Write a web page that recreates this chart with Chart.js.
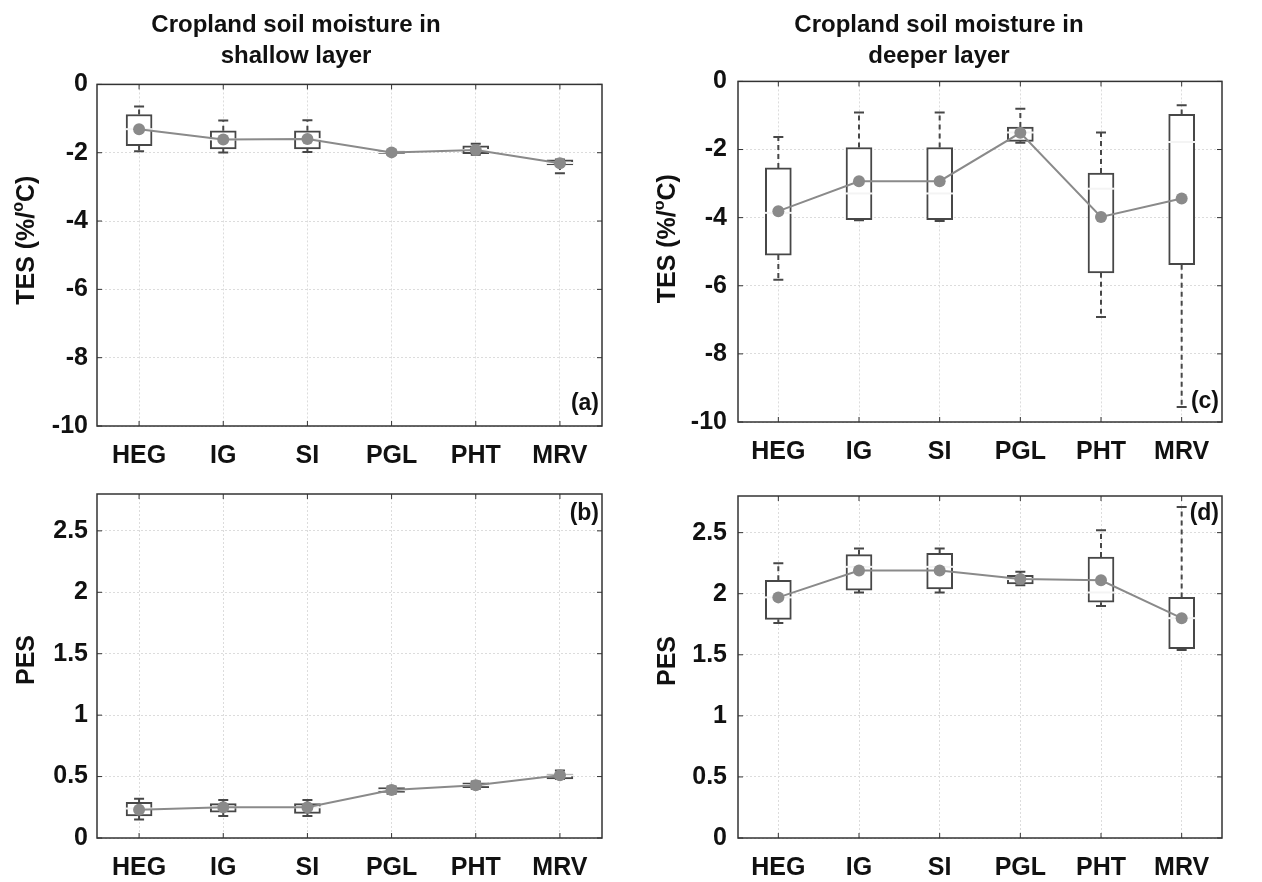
<!DOCTYPE html>
<html>
<head>
<meta charset="utf-8">
<script src="https://cdn.jsdelivr.net/npm/chart.js@4.4.0/dist/chart.umd.min.js"></script>
<style>
  body { margin: 0; background: #fff; width: 1262px; height: 882px; overflow: hidden; position: relative; }
  .panel { position: absolute; }
</style>
</head>
<body>
<div class="panel" style="left:-16px;top:0;width:624px;height:470px"><canvas id="chartA"></canvas></div>
<div class="panel" style="left:-16px;top:470px;width:624px;height:412px"><canvas id="chartB"></canvas></div>
<div class="panel" style="left:656px;top:0;width:572px;height:470px"><canvas id="chartC"></canvas></div>
<div class="panel" style="left:656px;top:470px;width:572px;height:412px"><canvas id="chartD"></canvas></div>
<script>
const sites = ["HEG", "IG", "SI", "PGL", "PHT", "MRV"];
const tesTicks = [-10, -8, -6, -4, -2, 0];
const pesTicks = [0, 0.5, 1, 1.5, 2, 2.5];

// (a) shallow layer, TES
const shallowTesLow = [-1.96, -1.99, -1.98, -2.05, -2.06, -2.60];
const shallowTesQ1 = [-1.79, -1.89, -1.89, -2.03, -2.03, -2.36];
const shallowTesMed = [-1.31, -1.61, -1.60, -1.99, -1.92, -2.30];
const shallowTesQ3 = [-0.88, -1.36, -1.36, -1.95, -1.80, -2.21];
const shallowTesHigh = [-0.65, -1.06, -1.05, -1.93, -1.74, -2.20];
const shallowTesMean = [-1.31, -1.61, -1.60, -1.99, -1.92, -2.31];

// (b) shallow layer, PES
const shallowPesLow = [0.15, 0.18, 0.18, 0.36, 0.40, 0.48];
const shallowPesQ1 = [0.18, 0.21, 0.20, 0.37, 0.41, 0.48];
const shallowPesMed = [0.24, 0.25, 0.25, 0.39, 0.43, 0.51];
const shallowPesQ3 = [0.29, 0.28, 0.28, 0.41, 0.45, 0.52];
const shallowPesHigh = [0.32, 0.31, 0.31, 0.42, 0.46, 0.55];
const shallowPesMean = [0.23, 0.25, 0.25, 0.39, 0.43, 0.51];

// (c) deeper layer, TES
const deepTesLow = [-5.82, -4.08, -4.10, -1.80, -6.92, -9.56];
const deepTesQ1 = [-5.10, -4.06, -4.06, -1.76, -5.62, -5.38];
const deepTesMed = [-3.86, -3.29, -3.29, -1.50, -3.15, -1.78];
const deepTesQ3 = [-2.54, -1.94, -1.94, -1.34, -2.69, -0.97];
const deepTesHigh = [-1.63, -0.91, -0.91, -0.80, -1.50, -0.70];
const deepTesMean = [-3.81, -2.93, -2.93, -1.51, -3.98, -3.44];

// (d) deeper layer, PES
const deepPesLow = [1.76, 2.01, 2.01, 2.07, 1.90, 1.54];
const deepPesQ1 = [1.79, 2.03, 2.04, 2.08, 1.93, 1.55];
const deepPesMed = [1.97, 2.22, 2.22, 2.12, 2.01, 1.80];
const deepPesQ3 = [2.11, 2.32, 2.33, 2.15, 2.30, 1.97];
const deepPesHigh = [2.25, 2.37, 2.37, 2.18, 2.52, 2.71];
const deepPesMean = [1.97, 2.19, 2.19, 2.12, 2.11, 1.80];

// y axis titles, [text, superscript?] pieces
const tesTitle = [["TES (%/", false], ["o", true], ["C)", false]];
const pesTitle = [["PES", false]];

const FONT = "'Liberation Sans', Arial, Helvetica, sans-serif";
Chart.defaults.font.family = FONT;
Chart.defaults.color = "#111";

// whiskers, medians, frame, y title and panel tag
const boxPlugin = {
  id: "boxes",
  afterDatasetDraw(chart, args, opts) {
    if (args.index !== 0) return;
    const { ctx } = chart;
    const x = chart.scales.x, y = chart.scales.y;
    ctx.save();
    opts.q1.forEach((q1, i) => {
      const cx = x.getPixelForValue(i);
      const yLow = y.getPixelForValue(opts.low[i]);
      const yHigh = y.getPixelForValue(opts.high[i]);
      const yQ1 = y.getPixelForValue(q1);
      const yQ3 = y.getPixelForValue(opts.q3[i]);
      ctx.strokeStyle = "#474747";
      ctx.lineWidth = 2;
      ctx.setLineDash([5, 4]);
      ctx.beginPath();
      ctx.moveTo(cx, yQ3); ctx.lineTo(cx, yHigh);
      ctx.moveTo(cx, yQ1); ctx.lineTo(cx, yLow);
      ctx.stroke();
      ctx.setLineDash([]);
      ctx.beginPath();
      ctx.moveTo(cx - 5, yHigh); ctx.lineTo(cx + 5, yHigh);
      ctx.moveTo(cx - 5, yLow); ctx.lineTo(cx + 5, yLow);
      ctx.stroke();
      const yMed = y.getPixelForValue(opts.med[i]);
      ctx.strokeStyle = "#f4f4f4";
      ctx.beginPath();
      ctx.moveTo(cx - 14, yMed); ctx.lineTo(cx + 14, yMed);
      ctx.stroke();
    });
    ctx.restore();
  },
  afterDraw(chart, args, opts) {
    const { ctx, chartArea: a } = chart;
    const x = chart.scales.x, y = chart.scales.y;
    ctx.save();
    ctx.strokeStyle = "#333";
    ctx.lineWidth = 1.5;
    ctx.strokeRect(a.left, a.top, a.right - a.left, a.bottom - a.top);
    ctx.lineWidth = 1;
    ctx.beginPath();
    sites.forEach((s, i) => {
      const px = x.getPixelForValue(i);
      ctx.moveTo(px, a.bottom); ctx.lineTo(px, a.bottom - 5);
      ctx.moveTo(px, a.top); ctx.lineTo(px, a.top + 5);
    });
    y.ticks.forEach((t) => {
      const py = y.getPixelForValue(t.value);
      ctx.moveTo(a.left, py); ctx.lineTo(a.left + 5, py);
      ctx.moveTo(a.right, py); ctx.lineTo(a.right - 5, py);
    });
    ctx.stroke();

    ctx.fillStyle = "#111";
    ctx.textAlign = "right";
    ctx.textBaseline = "middle";
    ctx.font = "bold 23px " + FONT;
    const ty = opts.tagAtTop ? a.top + opts.tagGap : a.bottom - opts.tagGap;
    ctx.fillText(opts.tag, a.right - 3, ty);

    // rotated y axis title with a raised small "o"
    const big = "bold 25px " + FONT, small = "bold 16px " + FONT;
    const widths = opts.yTitle.map(([t, sup]) => {
      ctx.font = sup ? small : big;
      return ctx.measureText(t).width;
    });
    const total = widths.reduce((s, w) => s + w, 0);
    ctx.translate(a.left - 72, (a.top + a.bottom) / 2 + opts.yTitleShift);
    ctx.rotate(-Math.PI / 2);
    ctx.textAlign = "left";
    ctx.textBaseline = "alphabetic";
    let pos = -total / 2;
    opts.yTitle.forEach(([t, sup], i) => {
      ctx.font = sup ? small : big;
      ctx.fillText(t, pos, sup ? -2 : 9);
      pos += widths[i];
    });
    ctx.restore();
  },
};

function makeChart(id, cfg) {
  const yTicks = cfg.yTicks;
  return new Chart(document.getElementById(id), {
    data: {
      labels: sites,
      datasets: [
        {
          type: "bar",
          data: cfg.q1.map((v, i) => [v, cfg.q3[i]]),
          backgroundColor: "#ffffff",
          borderColor: "#474747",
          borderWidth: 2,
          borderSkipped: false,
          barThickness: 26,
          order: 1,
        },
        {
          type: "line",
          data: cfg.mean,
          borderColor: "#8a8a8a",
          borderWidth: 2,
          pointRadius: 6,
          pointBackgroundColor: "#8a8a8a",
          pointBorderWidth: 0,
          order: 0,
        },
      ],
    },
    options: {
      responsive: true,
      maintainAspectRatio: false,
      animation: false,
      layout: { padding: { top: cfg.padTop, right: cfg.padRight, left: 0, bottom: 0 } },
      plugins: {
        legend: { display: false },
        tooltip: { enabled: false },
        title: {
          display: !!cfg.title,
          text: cfg.title || "",
          font: { size: 24, weight: "bold", lineHeight: 1.3 },
          color: "#111",
          padding: { top: 0, bottom: cfg.titleGap || 0 },
        },
        boxes: {
          q1: cfg.q1, q3: cfg.q3, low: cfg.low, high: cfg.high, med: cfg.med,
          tag: cfg.tag, tagAtTop: cfg.tagAtTop, tagGap: cfg.tagGap,
          yTitle: cfg.yTitle, yTitleShift: cfg.yTitleShift,
        },
      },
      scales: {
        x: {
          type: "category",
          offset: true,
          grid: { offset: false, drawTicks: false, color: "#dcdcdc", lineWidth: 1 },
          border: { display: false, dash: [2, 2] },
          ticks: { font: { size: 25, weight: "bold" }, color: "#111", padding: 15, maxRotation: 0 },
          afterFit: (s) => { s.height = cfg.xHeight; },
        },
        y: {
          min: cfg.yMin,
          max: cfg.yMax,
          grid: { drawTicks: false, color: "#dcdcdc", lineWidth: 1 },
          border: { display: false, dash: [2, 2] },
          afterBuildTicks: (s) => { s.ticks = yTicks.map((v) => ({ value: v })); },
          ticks: {
            font: { size: 25, weight: "bold" },
            color: "#111",
            padding: cfg.tickPad,
            callback: (v) => String(v),
          },
          afterFit: (s) => { s.width = cfg.yWidth; },
        },
      },
    },
    plugins: [boxPlugin],
  });
}

const leftGeom = { yWidth: 113, padRight: 0, tickPad: 9 };
const rightGeom = { yWidth: 82, padRight: 6, tickPad: 11 };

makeChart("chartA", {
  ...leftGeom,
  title: ["Cropland soil moisture in", "shallow layer"],
  padTop: 10, titleGap: 12, xHeight: 44,
  yMin: -10, yMax: 0, yTicks: tesTicks, yTitle: tesTitle, yTitleShift: -15,
  low: shallowTesLow, q1: shallowTesQ1, med: shallowTesMed, q3: shallowTesQ3, high: shallowTesHigh, mean: shallowTesMean,
  tag: "(a)", tagAtTop: false, tagGap: 22,
});
makeChart("chartB", {
  ...leftGeom,
  padTop: 19, xHeight: 44,
  yMin: 0, yMax: 2.8, yTicks: pesTicks, yTitle: pesTitle, yTitleShift: -6,
  low: shallowPesLow, q1: shallowPesQ1, med: shallowPesMed, q3: shallowPesQ3, high: shallowPesHigh, mean: shallowPesMean,
  tag: "(b)", tagAtTop: true, tagGap: 20,
});
makeChart("chartC", {
  ...rightGeom,
  title: ["Cropland soil moisture in", "deeper layer"],
  padTop: 10, titleGap: 9, xHeight: 48,
  yMin: -10, yMax: 0, yTicks: tesTicks, yTitle: tesTitle, yTitleShift: -13,
  low: deepTesLow, q1: deepTesQ1, med: deepTesMed, q3: deepTesQ3, high: deepTesHigh, mean: deepTesMean,
  tag: "(c)", tagAtTop: false, tagGap: 20,
});
makeChart("chartD", {
  ...rightGeom,
  padTop: 19, xHeight: 44,
  yMin: 0, yMax: 2.8, yTicks: pesTicks, yTitle: pesTitle, yTitleShift: -6,
  low: deepPesLow, q1: deepPesQ1, med: deepPesMed, q3: deepPesQ3, high: deepPesHigh, mean: deepPesMean,
  tag: "(d)", tagAtTop: true, tagGap: 18,
});
</script>
</body>
</html>
